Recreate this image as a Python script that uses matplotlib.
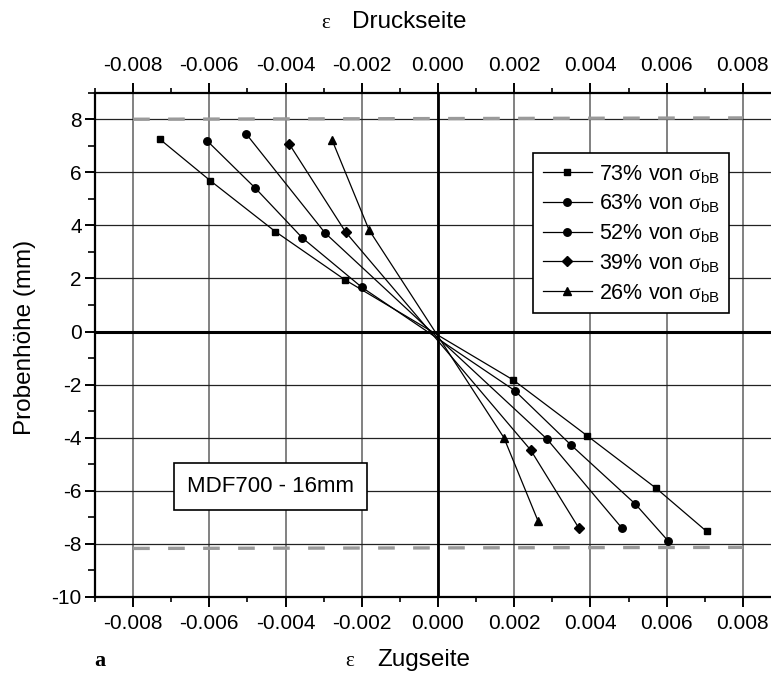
import matplotlib
matplotlib.use("Agg")
import matplotlib.pyplot as plt
from matplotlib.ticker import MultipleLocator, FormatStrFormatter

plt.rcParams['font.family'] = 'Liberation Sans'
plt.rcParams['mathtext.fontset'] = 'custom'
plt.rcParams['mathtext.rm'] = 'Liberation Sans'
plt.rcParams['mathtext.it'] = 'Liberation Serif'

# strain values (epsilon) and specimen height (mm) per load level
eps_73 = [-0.00730, -0.00597, -0.00427, -0.00244, 0.00197, 0.00391, 0.00573, 0.00705]
h_73 = [7.25, 5.68, 3.77, 1.95, -1.82, -3.92, -5.91, -7.53]

eps_63 = [-0.00606, -0.00479, -0.00356, -0.00200, 0.00201, 0.00348, 0.00518, 0.00604]
h_63 = [7.19, 5.40, 3.53, 1.67, -2.22, -4.26, -6.50, -7.89]

eps_52 = [-0.00504, -0.00296, 0.00286, 0.00483]
h_52 = [7.46, 3.71, -4.05, -7.41]

eps_39 = [-0.00390, -0.00242, 0.00243, 0.00369]
h_39 = [7.06, 3.74, -4.46, -7.39]

eps_26 = [-0.00278, -0.00181, 0.00173, 0.00262]
h_26 = [7.22, 3.83, -4.00, -7.12]

levels = ["73%", "63%", "52%", "39%", "26%"]
markers = ["s", "o", "o", "D", "^"]
msizes = [4.8, 5.4, 5.4, 4.6, 5.8]

# specimen surfaces (dashed)
surf_x = [-0.008, 0.008]
surf_top = [8.0, 8.05]
surf_bot = [-8.17, -8.13]

fig = plt.figure(figsize=(7.71, 6.75), dpi=100)
ax = fig.add_axes([95 / 771, 1 - 597 / 675, 686 / 771, 504.3 / 675])

ax.set_xlim(-0.009, 0.009)
ax.set_ylim(-10, 9)

ax.xaxis.set_major_locator(MultipleLocator(0.002))
ax.xaxis.set_minor_locator(MultipleLocator(0.001))
ax.xaxis.set_major_formatter(FormatStrFormatter('%.3f'))
ax.yaxis.set_major_locator(MultipleLocator(2))
ax.yaxis.set_minor_locator(MultipleLocator(1))
ax.yaxis.set_major_formatter(FormatStrFormatter('%d'))

ax.xaxis.grid(True, color='#777777', linewidth=1.3, zorder=0)
ax.yaxis.grid(True, color='#222222', linewidth=0.9, zorder=0)
ax.set_axisbelow(True)
ax.axhline(0, color='black', linewidth=2.2, zorder=1)
ax.axvline(0, color='black', linewidth=2.0, zorder=1)

ax.tick_params(axis='x', which='major', direction='out', length=7.5, width=1.4,
               top=True, labeltop=True, labelsize=15, pad=5)
ax.tick_params(axis='x', which='minor', direction='out', length=3.5, width=1.2, top=True)
ax.tick_params(axis='y', which='major', direction='out', length=7.5, width=1.4,
               labelsize=15, pad=2)
ax.tick_params(axis='y', which='minor', direction='out', length=5, width=1.2)

for side in ['left', 'top', 'bottom']:
    ax.spines[side].set_linewidth(1.6)
ax.spines['right'].set_visible(False)

dash_kw = dict(color='#9a9a9a', linewidth=2.4, dashes=(5, 5.5), zorder=2)
ax.plot(surf_x, surf_top, **dash_kw)
ax.plot(surf_x, surf_bot, **dash_kw)

series = [(eps_73, h_73), (eps_63, h_63), (eps_52, h_52), (eps_39, h_39), (eps_26, h_26)]
for (e, h), lev, mk, ms in zip(series, levels, markers, msizes):
    ax.plot(e, h, color='black', linewidth=0.9, marker=mk, markersize=ms,
            label=lev + r" von $\sigma_{\mathrm{bB}}$", zorder=3)

leg = ax.legend(loc='upper left', bbox_to_anchor=((533 - 95) / 686, (597 - 153) / 504.3),
                borderaxespad=0, fontsize=15.5, fancybox=False, framealpha=1,
                edgecolor='black', handlelength=2.3, handletextpad=0.3,
                labelspacing=0.36, borderpad=0.45)
leg.get_frame().set_linewidth(1.2)

ax.text((270.5 - 95) / 686, (597 - 486.5) / 504.3, "MDF700 - 16mm", transform=ax.transAxes,
        fontsize=16, va='center', ha='center',
        bbox=dict(boxstyle='square,pad=0.6', facecolor='white', edgecolor='black', linewidth=1.2))

# axis titles
fig.text(352 / 771, 1 - 22 / 675, "Druckseite", fontsize=17.5, ha='left', va='center')
fig.text(326 / 771, 1 - 24 / 675, "ε", fontsize=15, family='Liberation Serif', ha='center', va='center')
fig.text(377 / 771, 1 - 660 / 675, "Zugseite", fontsize=17.5, ha='left', va='center')
fig.text(350 / 771, 1 - 662 / 675, "ε", fontsize=15, family='Liberation Serif', ha='center', va='center')
fig.text(25 / 771, 1 - 337 / 675, "Probenhöhe (mm)", fontsize=17.5, rotation=90, ha='center', va='center')
fig.text(100 / 771, 1 - 661 / 675, "a", fontsize=16, family='Liberation Serif', weight='bold',
         ha='center', va='center')

fig.savefig("out.png", dpi=100)
